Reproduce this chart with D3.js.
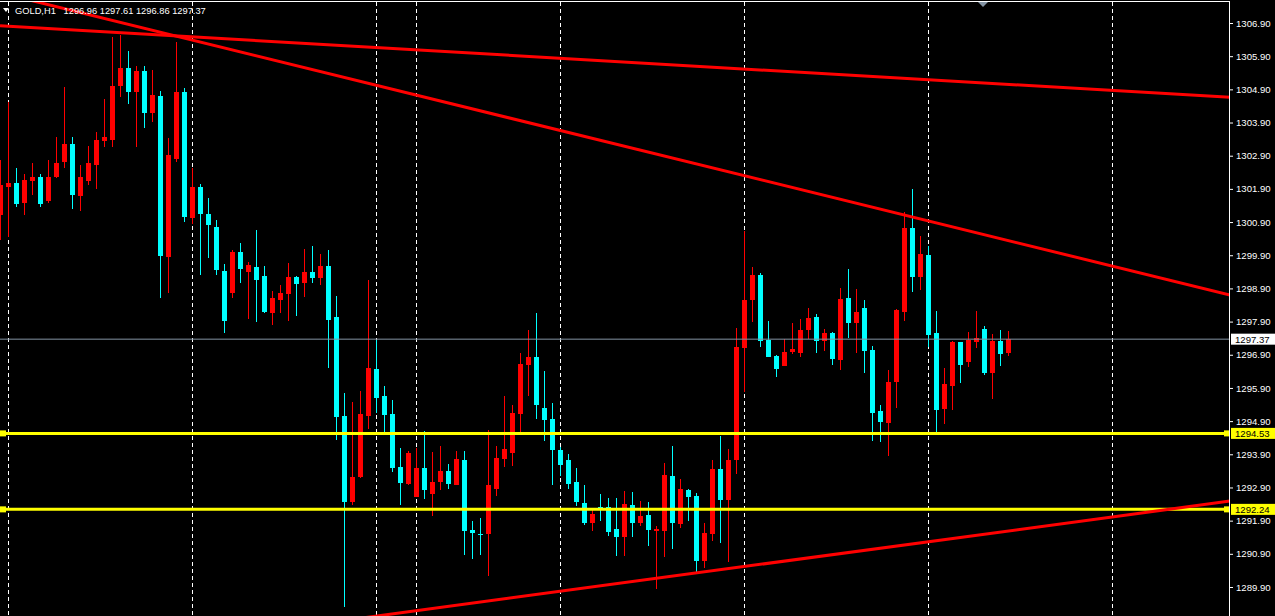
<!DOCTYPE html>
<html>
<head>
<meta charset="utf-8">
<script src="https://cdn.jsdelivr.net/npm/d3@7"></script>
<style>
  html, body { margin: 0; padding: 0; background: #000; overflow: hidden; }
  svg { display: block; }
</style>
</head>
<body>
<svg id="chart" width="1275" height="616"></svg>
<script>
// ---- Data (GOLD, H1) ----
const symbol = "GOLD,H1";
const openP = [1301.11,1301.96,1302.08,1301.47,1302.14,1302.26,1301.53,1302.26,1302.71,1303.25,1301.69,1302.14,1302.62,1303.34,1303.37,1305.00,1305.54,1304.82,1305.45,1304.19,1304.70,1299.85,1302.80,1304.82,1301.02,1301.96,1301.14,1300.75,1299.43,1298.76,1300.00,1299.40,1299.55,1299.27,1298.16,1298.55,1298.73,1299.24,1299.06,1299.40,1299.21,1299.58,1298.04,1295.05,1292.46,1293.22,1295.05,1296.47,1295.66,1295.11,1293.52,1293.00,1292.61,1293.49,1292.70,1293.06,1293.40,1292.97,1293.73,1291.62,1291.50,1291.50,1292.85,1293.76,1293.94,1295.11,1296.59,1296.83,1295.30,1294.96,1294.03,1293.73,1293.06,1292.43,1291.83,1292.31,1292.31,1291.65,1291.41,1292.37,1291.83,1292.07,1291.59,1291.59,1293.25,1291.80,1292.82,1292.64,1290.68,1291.50,1293.46,1292.52,1293.73,1297.10,1298.55,1299.30,1297.34,1296.86,1296.56,1296.98,1296.95,1297.65,1298.04,1297.31,1297.56,1296.74,1298.61,1297.86,1298.31,1297.04,1295.20,1294.84,1296.08,1298.19,1300.72,1299.24,1299.91,1297.56,1295.27,1295.96,1297.28,1296.68,1297.28,1297.68,1296.35,1297.31,1296.96];
const highP = [1302.77,1304.52,1302.53,1302.35,1302.68,1302.35,1302.77,1303.46,1304.97,1303.46,1302.62,1303.19,1303.61,1304.61,1306.48,1306.54,1306.06,1305.60,1305.60,1305.48,1304.85,1303.43,1306.33,1304.94,1302.53,1302.05,1301.63,1300.96,1299.64,1300.06,1300.27,1299.70,1300.66,1299.58,1298.82,1299.00,1299.67,1299.27,1300.09,1300.18,1299.94,1300.06,1298.67,1295.75,1295.48,1295.81,1299.15,1297.34,1295.96,1295.54,1294.09,1294.00,1294.09,1294.60,1293.97,1294.15,1293.61,1294.00,1294.00,1291.89,1291.98,1294.63,1294.15,1295.66,1295.38,1296.95,1297.65,1298.16,1296.41,1295.45,1294.12,1293.91,1293.49,1292.97,1292.22,1292.70,1292.58,1292.58,1292.79,1292.76,1292.49,1292.46,1291.74,1293.64,1294.15,1293.16,1292.85,1292.73,1291.83,1293.73,1294.45,1294.06,1297.71,1300.63,1299.55,1299.37,1297.92,1296.89,1297.37,1297.86,1297.98,1298.31,1298.13,1297.68,1297.59,1298.91,1299.49,1298.88,1298.55,1297.16,1295.38,1296.44,1298.28,1301.20,1301.90,1300.48,1300.18,1298.22,1296.50,1297.31,1297.28,1297.59,1298.22,1297.77,1297.53,1297.65,1297.61];
const lowP = [1300.36,1300.45,1301.35,1301.11,1301.72,1301.35,1301.47,1302.23,1302.53,1301.29,1301.23,1302.02,1301.90,1303.16,1303.16,1304.67,1304.46,1303.16,1303.74,1303.92,1298.61,1298.76,1302.71,1300.90,1300.84,1299.30,1299.82,1299.30,1297.56,1298.61,1299.06,1297.98,1297.89,1298.16,1297.80,1298.16,1297.92,1298.07,1298.64,1299.06,1299.00,1296.50,1294.33,1289.30,1292.37,1293.19,1294.66,1295.14,1294.57,1293.37,1292.37,1292.97,1292.61,1292.55,1292.04,1292.82,1292.85,1292.97,1290.86,1290.74,1290.86,1290.23,1292.64,1293.52,1293.55,1294.57,1295.66,1294.96,1294.30,1292.97,1293.25,1292.85,1292.34,1291.77,1291.59,1291.89,1291.44,1290.83,1290.83,1291.41,1291.74,1291.13,1289.84,1290.80,1291.04,1291.68,1291.89,1290.35,1290.47,1291.29,1291.23,1290.65,1293.31,1295.78,1297.89,1297.13,1296.83,1296.23,1296.56,1296.92,1296.83,1297.37,1296.95,1297.01,1296.59,1296.44,1297.40,1296.95,1296.35,1294.30,1294.27,1293.85,1295.30,1297.92,1298.79,1298.85,1297.13,1294.57,1294.81,1295.24,1296.05,1296.53,1297.10,1296.29,1295.57,1296.56,1296.86];
const closeP = [1302.02,1302.08,1301.44,1302.17,1302.26,1301.44,1302.26,1302.68,1303.25,1301.72,1302.26,1302.68,1303.37,1303.46,1305.00,1305.54,1304.82,1305.45,1304.19,1304.73,1299.88,1302.92,1304.82,1301.05,1301.96,1301.14,1300.81,1299.46,1297.92,1300.00,1299.49,1299.61,1299.15,1298.19,1298.61,1298.76,1299.24,1299.03,1299.40,1299.21,1299.58,1297.95,1295.02,1292.46,1293.22,1295.11,1296.50,1295.60,1295.08,1293.49,1293.03,1293.94,1293.49,1292.82,1293.06,1293.40,1293.00,1293.76,1291.59,1291.53,1291.47,1292.97,1293.79,1294.06,1295.14,1296.62,1296.83,1295.38,1294.93,1294.03,1293.58,1293.00,1292.46,1291.83,1292.10,1292.28,1291.56,1291.41,1292.40,1291.83,1292.04,1291.62,1291.65,1293.28,1291.83,1292.85,1292.61,1290.68,1291.53,1293.46,1292.52,1293.73,1297.13,1298.55,1299.30,1297.31,1296.83,1296.47,1296.98,1297.07,1297.65,1298.01,1297.31,1297.56,1296.77,1298.58,1297.86,1298.19,1297.01,1295.14,1294.87,1296.08,1298.25,1300.72,1299.24,1299.94,1297.50,1295.24,1296.02,1297.28,1296.59,1297.34,1297.40,1296.35,1297.31,1296.92,1297.37];

const priceTicks = d3.range(0, 18).map(i => +(1306.90 - i).toFixed(2));
const gridBars = [1, 24, 47, 52, 70, 93, 116, 139];
const levelPrices = [1294.53, 1292.24];
const bidPrice = 1297.37;
// trend lines: two anchors each [bar index, price]
const trendA = [[-0.06, 1306.82], [153.69, 1304.66]];
const trendB = [[-0.06, 1307.81], [153.69, 1298.70]];
const trendC = [[47.19, 1289.03], [153.69, 1292.49]];

// ---- Layout ----
const W = 1275, H = 616;
const plotRight = 1230;
const FONT = "Liberation Sans, Arial, sans-serif";
const svg = d3.select("#chart");
svg.append("rect").attr("width", W).attr("height", H).attr("fill", "#000");

const x = d3.scaleLinear().domain([0, 1]).range([0.5, 8.5]);
const y = d3.scaleLinear().domain([1306.90, 1289.90]).range([23, 587]);

svg.append("clipPath").attr("id", "plotclip")
  .append("rect").attr("x", 0).attr("y", 2).attr("width", plotRight).attr("height", H - 2);

const plot = svg.append("g").attr("clip-path", "url(#plotclip)");

// grid (vertical dashed)
plot.selectAll("line.grid").data(gridBars).join("line")
  .attr("class", "grid")
  .attr("x1", d => x(d)).attr("x2", d => x(d))
  .attr("y1", 2).attr("y2", H)
  .attr("stroke", "#ffffff").attr("stroke-width", 1)
  .attr("stroke-dasharray", "4,3");

// header text
const hdr = svg.append("g");
hdr.append("path").attr("d", "M3,8 L9,8 L6,12 Z").attr("fill", "#ffffff");
hdr.append("text").attr("x", 15).attr("y", 14)
  .attr("fill", "#ffffff").attr("font-family", FONT)
  .attr("font-size", "9.3px")
  .style("white-space", "pre")
  .text(`${symbol}   ${openP[openP.length-1].toFixed(2)} ${highP[highP.length-1].toFixed(2)} ${lowP[lowP.length-1].toFixed(2)} ${closeP[closeP.length-1].toFixed(2)}`);

// candles
const bars = d3.range(openP.length).map(i => ({i, o: openP[i], h: highP[i], l: lowP[i], c: closeP[i]}));
const col = d => d.c >= d.o ? "#ff0000" : "#00ffff";
const cg = plot.append("g").attr("shape-rendering", "crispEdges");
cg.selectAll("line.wick").data(bars).join("line")
  .attr("x1", d => x(d.i)).attr("x2", d => x(d.i))
  .attr("y1", d => y(d.h)).attr("y2", d => y(d.l))
  .attr("stroke", col).attr("stroke-width", 1);
cg.selectAll("rect.body").data(bars).join("rect")
  .attr("x", d => x(d.i) - 2.5).attr("width", 5)
  .attr("y", d => y(Math.max(d.o, d.c)))
  .attr("height", d => Math.max(1, Math.abs(y(d.o) - y(d.c))))
  .attr("fill", col);

// bid line
plot.append("line").attr("x1", 0).attr("x2", plotRight)
  .attr("y1", y(bidPrice)).attr("y2", y(bidPrice))
  .attr("stroke", "#8393a3").attr("stroke-width", 1);

// horizontal yellow levels
levelPrices.forEach(p => {
  plot.append("line").attr("x1", 0).attr("x2", plotRight)
    .attr("y1", y(p)).attr("y2", y(p))
    .attr("stroke", "#ffff00").attr("stroke-width", 3);
  plot.append("rect").attr("x", 0).attr("y", y(p) - 3).attr("width", 6).attr("height", 6).attr("fill", "#ffff00");
  plot.append("rect").attr("x", plotRight - 6).attr("y", y(p) - 3).attr("width", 6).attr("height", 6).attr("fill", "#ffff00");
});

// trend lines (rays extended across the plot)
const line = d3.line().x(d => x(d[0])).y(d => y(d[1]));
function extend(t) {
  const [a, b] = t;
  const s = (b[1] - a[1]) / (b[0] - a[0]);
  const b0 = a[0] < 0 ? a[0] : a[0] - 3;
  return [[b0, a[1] + (b0 - a[0]) * s], [b[0], b[1]]];
}
[trendA, trendB, trendC].forEach(t => {
  plot.append("path").attr("d", line(extend(t)))
    .attr("fill", "none").attr("stroke", "#ff0000").attr("stroke-width", 3);
});

// frame
svg.append("line").attr("x1", 0).attr("x2", plotRight).attr("y1", 1.5).attr("y2", 1.5)
  .attr("stroke", "#ffffff").attr("stroke-width", 1);
svg.append("line").attr("x1", plotRight - 0.5).attr("x2", plotRight - 0.5).attr("y1", 1).attr("y2", H)
  .attr("stroke", "#ffffff").attr("stroke-width", 1);
// shift marker
svg.append("path").attr("d", "M978,2 L988,2 L983,7 Z").attr("fill", "#8393a3");

// right price axis
const axis = d3.axisRight(y).tickValues(priceTicks).tickFormat(d3.format(".2f")).tickSize(3).tickPadding(3);
const ag = svg.append("g").attr("transform", `translate(${plotRight},0)`).call(axis);
ag.select(".domain").remove();
ag.selectAll(".tick line").attr("stroke", "#ffffff");
ag.selectAll(".tick text").attr("fill", "#ffffff")
  .attr("font-family", FONT).attr("font-size", "9.6px");

// price label boxes
function priceBox(p, bg) {
  const g = svg.append("g");
  g.append("rect").attr("x", plotRight + 1).attr("y", y(p) - 5.5).attr("width", W - plotRight - 1).attr("height", 11).attr("fill", bg);
  g.append("text").attr("x", plotRight + 5).attr("y", y(p)).attr("dy", "0.35em")
    .attr("fill", "#000").attr("font-family", FONT).attr("font-size", "9.6px")
    .text(p.toFixed(2));
}
levelPrices.forEach(p => priceBox(p, "#ffff00"));
priceBox(bidPrice, "#ffffff");
</script>
</body>
</html>
